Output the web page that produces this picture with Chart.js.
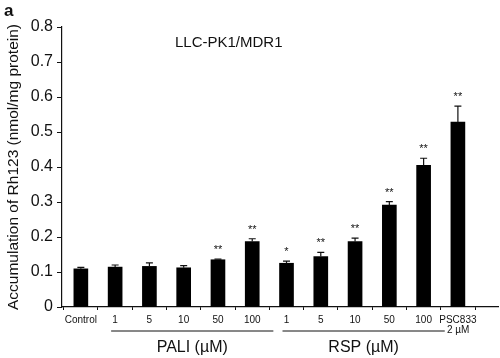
<!DOCTYPE html>
<html>
<head>
<meta charset="utf-8">
<script src="https://cdn.jsdelivr.net/npm/chart.js@4.4.1/dist/chart.umd.min.js"></script>
<style>
  html, body { margin: 0; padding: 0; background: #fff; overflow: hidden; }
  canvas { display: block; }
</style>
</head>
<body>
<canvas id="bar_chart" width="500" height="358"></canvas>
<script>
// values
const labels = ["Control", "1", "5", "10", "50", "100", "1", "5", "10", "50", "100", "PSC833"];
const means = [0.109, 0.114, 0.116, 0.112, 0.135, 0.187, 0.125, 0.144, 0.187, 0.291, 0.405, 0.528];
const errors = [0.004, 0.006, 0.010, 0.006, 0.002, 0.008, 0.006, 0.012, 0.010, 0.010, 0.020, 0.046];
const stars = ["", "", "", "", "**", "**", "*", "**", "**", "**", "**", "**"];
const yTicks = [0, 0.1, 0.2, 0.3, 0.4, 0.5, 0.6, 0.7, 0.8];
const groups = [
  { label: "PALI (\u00b5M)", from: 1, to: 5 },
  { label: "RSP (\u00b5M)", from: 6, to: 10 },
];

const FONT = "'Liberation Sans', Arial, sans-serif";
const INK = "#111";

const extras = {
  id: "extras",
  afterDatasetsDraw(chart) {
    const { ctx, scales: { x, y } } = chart;
    const step = x.getPixelForValue(1) - x.getPixelForValue(0);
    ctx.save();
    ctx.strokeStyle = INK;
    ctx.fillStyle = INK;
    ctx.lineWidth = 1.2;
    // error bars (upper only) and significance marks
    means.forEach((m, i) => {
      const cx = x.getPixelForValue(i);
      const yTop = y.getPixelForValue(m);
      const yErr = y.getPixelForValue(m + errors[i]);
      ctx.beginPath();
      ctx.moveTo(cx, yTop);
      ctx.lineTo(cx, yErr);
      ctx.moveTo(cx - 3.5, yErr);
      ctx.lineTo(cx + 3.5, yErr);
      ctx.stroke();
      if (stars[i]) {
        ctx.font = "11px " + FONT;
        ctx.textAlign = "center";
        ctx.textBaseline = "alphabetic";
        ctx.fillText(stars[i], cx, yErr - 6);
      }
    });
    // group underlines and labels
    const lineY = chart.chartArea.bottom + 24;
    groups.forEach((g) => {
      const x0 = x.getPixelForValue(g.from) - 4;
      const x1 = x.getPixelForValue(g.to) + step * 0.5 + 4;
      ctx.beginPath();
      ctx.lineWidth = 1;
      ctx.moveTo(x0, lineY);
      ctx.lineTo(x1, lineY);
      ctx.stroke();
      ctx.font = "16px " + FONT;
      ctx.textAlign = "center";
      ctx.textBaseline = "middle";
      ctx.fillText(g.label, (x0 + x1) / 2, lineY + 17);
    });
    // "2 µM" under PSC833
    ctx.font = "10px " + FONT;
    ctx.textAlign = "left";
    ctx.textBaseline = "middle";
    ctx.fillText("2 \u00b5M", x.getPixelForValue(11) - 11, lineY - 1);
    // panel letter and cell-line label
    ctx.font = "bold 17px " + FONT;
    ctx.textBaseline = "alphabetic";
    ctx.fillText("a", 4, 16);
    ctx.font = "15px " + FONT;
    ctx.fillText("LLC-PK1/MDR1", 175, 47);
    ctx.restore();
  },
};

const ctx = document.getElementById("bar_chart").getContext("2d");
const chart = new Chart(ctx, {
  type: "bar",
  data: {
    datasets: [
      {
        data: means.map((v, i) => ({ x: i, y: v })),
        backgroundColor: "#000",
        borderWidth: 0,
        barThickness: 14,
      },
    ],
  },
  options: {
    responsive: false,
    animation: false,
    devicePixelRatio: 1,
    layout: { padding: { top: 27, right: 2, left: 0, bottom: 0 } },
    plugins: { legend: { display: false }, tooltip: { enabled: false } },
    scales: {
      x: {
        type: "linear",
        offset: false,
        min: -0.55,
        max: 12.17,
        afterBuildTicks: (scale) => {
          scale.ticks = labels.map((_, i) => ({ value: i }));
        },
        afterFit: (scale) => { scale.height = 51; },
        grid: { display: true, drawOnChartArea: false, offset: true, tickLength: 3, color: INK },
        border: { display: true, color: INK, width: 1.2 },
        ticks: {
          autoSkip: false,
          maxRotation: 0,
          padding: 4,
          color: INK,
          font: { family: FONT, size: 10 },
          callback: (v) => labels[v] ?? "",
        },
      },
      y: {
        min: 0,
        max: 0.8,
        afterBuildTicks: (scale) => {
          scale.ticks = yTicks.map((v) => ({ value: v }));
        },
        afterFit: (scale) => { scale.width = 62; },
        grid: { display: true, drawOnChartArea: false, tickLength: 5, color: INK },
        border: { display: true, color: INK, width: 1.2 },
        ticks: {
          autoSkip: false,
          padding: 4,
          color: INK,
          font: { family: FONT, size: 16 },
          callback: (v) => (v === 0 ? "0" : v.toFixed(1)),
        },
        title: {
          display: true,
          text: "Accumulation of Rh123 (nmol/mg protein)",
          color: INK,
          font: { family: FONT, size: 15.5 },
          padding: { top: 4, bottom: 0 },
        },
      },
    },
  },
  plugins: [extras],
});
</script>
</body>
</html>
